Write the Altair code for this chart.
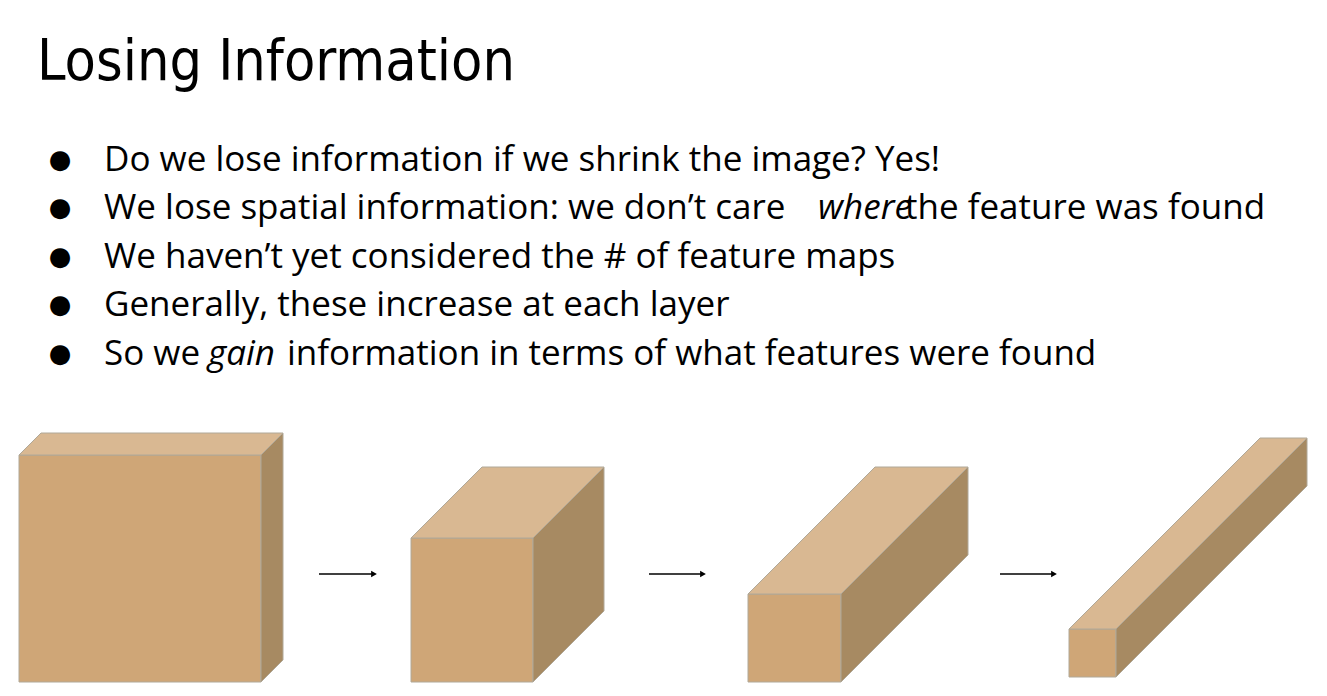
import altair as alt
import pandas as pd

# Slide title and bullet lines (plain segments, italic segments)
title = "Losing Information"
bullet_plain = [
    "Do we lose information if we shrink the image? Yes!",
    "We lose spatial information: we don\u2019t care",
    "We haven\u2019t yet considered the # of feature maps",
    "Generally, these increase at each layer",
    "So we",
]
bullet_y = [160, 208, 257, 305, 354]
extra_text = [
    ("where", 818, 208, "italic"),
    ("the feature was found", 905, 208, "normal"),
    ("gain", 208, 354, "italic"),
    ("information in terms of what features were found", 287, 354, "normal"),
]

# Boxes: front left, front right, front top, bottom, depth
box_x0 = [19, 411, 748, 1069]
box_x1 = [261, 533, 841, 1116]
box_top = [455, 538, 594, 629]
box_bottom = [682, 682, 682, 677]
box_depth = [22, 71, 127, 191]

arrow_x0 = [319, 649, 1000]
arrow_x1 = [374, 703, 1054]
arrow_y = 574

proj = alt.Projection(type="identity", scale=1, translate=[-8, -8]).to_dict()
FONT = "Open Sans"
SIZE = 35


def poly(pts):
    return {"type": "Feature", "properties": {},
            "geometry": {"type": "Polygon", "coordinates": [pts + [pts[0]]]}}


front, top, side = [], [], []
for a, b, t, bt, d in zip(box_x0, box_x1, box_top, box_bottom, box_depth):
    front.append(poly([[a, t], [b, t], [b, bt], [a, bt]]))
    top.append(poly([[a, t], [a + d, t - d], [b + d, t - d], [b, t]]))
    side.append(poly([[b, t], [b + d, t - d], [b + d, bt - d], [b, bt]]))


def faces(feats, color):
    return (
        alt.Chart(alt.Data(values=feats))
        .mark_geoshape(fill=color, stroke="#b0a898", strokeWidth=1)
        .project(**proj)
    )


layers = [faces(front, "#cfa677"), faces(top, "#d9b892"), faces(side, "#a78a62")]

arrows = pd.DataFrame({"x0": arrow_x0, "x1": arrow_x1, "y": [arrow_y] * 3})
layers.append(
    alt.Chart(arrows).mark_rule(color="black", strokeWidth=1.5)
    .encode(longitude="x0:Q", latitude="y:Q", longitude2="x1:Q", latitude2="y:Q")
    .project(**proj)
)
layers.append(
    alt.Chart(arrows).mark_point(shape="triangle-right", filled=True, color="black",
                                 size=45, opacity=1)
    .encode(longitude="x1:Q", latitude="y:Q")
    .project(**proj)
)

layers.append(
    alt.Chart(pd.DataFrame({"t": [title], "x": [37], "y": [80]}))
    .mark_text(align="left", baseline="alphabetic", fontSize=57, fontWeight=300,
               font="'DejaVu Sans Condensed', 'Liberation Sans', sans-serif",
               color="black")
    .encode(longitude="x:Q", latitude="y:Q", text="t:N")
    .project(**proj)
)

bl = pd.DataFrame({"t": bullet_plain, "y": bullet_y, "x": [104] * 5, "bx": [60] * 5})
layers.append(
    alt.Chart(bl).mark_text(align="center", baseline="middle", fontSize=26,
                            font="DejaVu Sans", color="black")
    .encode(longitude="bx:Q", latitude="y:Q", text=alt.value("\u25cf"))
    .project(**proj)
)
layers.append(
    alt.Chart(bl).mark_text(align="left", baseline="middle", fontSize=SIZE,
                            font=FONT, color="black")
    .encode(longitude="x:Q", latitude="y:Q", text="t:N")
    .project(**proj)
)
for txt, x, y, style in extra_text:
    layers.append(
        alt.Chart(pd.DataFrame({"t": [txt], "x": [x], "y": [y]}))
        .mark_text(align="left", baseline="middle", fontSize=SIZE,
                   font=FONT, fontStyle=style, color="black")
        .encode(longitude="x:Q", latitude="y:Q", text="t:N")
        .project(**proj)
    )

chart = (
    alt.layer(*layers)
    .properties(width=1311, height=680, autosize="none", padding=0)
    .configure_view(stroke=None)
)
chart.save("out.html", embed_options={"renderer": "svg", "actions": False})
